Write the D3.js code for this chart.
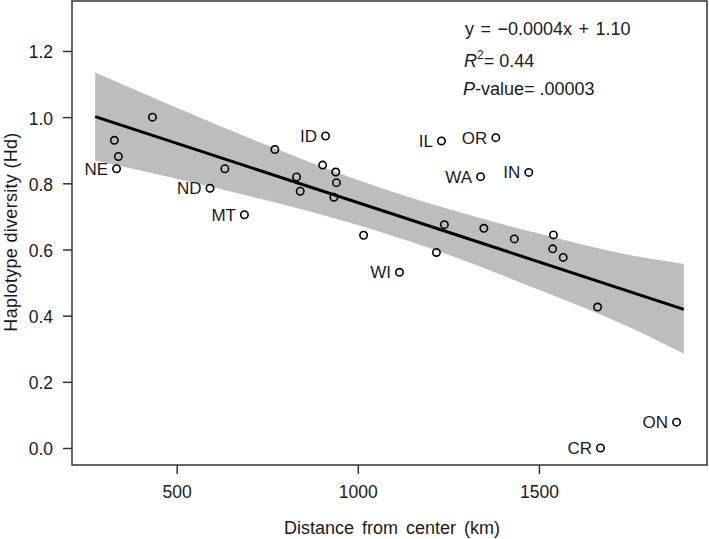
<!DOCTYPE html>
<html>
<head>
<meta charset="utf-8">
<script src="https://cdn.jsdelivr.net/npm/d3@7"></script>
<style>
  html, body { margin: 0; padding: 0; background: #fff; }
  svg { display: block; }
  text { font-family: "Liberation Sans", Arial, Helvetica, sans-serif; fill: #1a1a1a; }
</style>
</head>
<body>
<svg id="chart" width="709" height="539"></svg>
<script>
// ---- data ----
const distance = [328, 339, 334, 433, 592, 633, 687, 771, 831, 841, 903, 911, 939, 941, 934,
                  1016, 1115, 1217, 1231, 1239, 1339, 1348, 1381, 1432, 1472, 1540, 1538, 1567,
                  1662, 1670, 1880];
const diversity = [0.930, 0.881, 0.844, 1.000, 0.785, 0.844, 0.705, 0.902, 0.819, 0.776, 0.855, 0.943, 0.834, 0.802, 0.758,
                   0.643, 0.531, 0.591, 0.928, 0.675, 0.820, 0.664, 0.938, 0.632, 0.833, 0.644, 0.602, 0.576,
                   0.426, 0.000, 0.078];
const stateLabels = ["", "", "NE", "", "ND", "", "MT", "", "", "", "", "ID", "", "", "",
                     "", "WI", "", "IL", "", "WA", "", "OR", "", "IN", "", "", "",
                     "", "CR", "ON"];

const fitX = [275, 1900];
const fitY = [1.0016, 0.419];

const bandX     = [275,   500,   750,   1000,  1250,  1500,  1750,  1900];
const bandUpper = [1.135, 1.028, 0.915, 0.810, 0.722, 0.648, 0.583, 0.556];
const bandLower = [0.869, 0.814, 0.748, 0.674, 0.584, 0.478, 0.365, 0.285];

const xTicks = [500, 1000, 1500];
const yTicks = [0.0, 0.2, 0.4, 0.6, 0.8, 1.0, 1.2];

const xTitle = "Distance from center (km)";
const yTitle = "Haplotype diversity (Hd)";
const eqText = "y = \u22120.0004x + 1.10";
const r2Value = "= 0.44";
const pValue = "-value= .00003";

// ---- layout ----
const svg = d3.select("#chart");
const mLeft = 72, mRight = 707, mTop = 1, mBottom = 465;

const x = d3.scaleLinear().domain([211, 1964]).range([mLeft, mRight]);
const y = d3.scaleLinear().domain([-0.0514, 1.351]).range([mBottom, mTop]);

// confidence band
const bandData = bandX.map((d, i) => ({x: d, lo: bandLower[i], hi: bandUpper[i]}));
svg.append("path")
  .datum(bandData)
  .attr("fill", "#bdbdbd")
  .attr("d", d3.area().x(d => x(d.x)).y0(d => y(d.lo)).y1(d => y(d.hi)).curve(d3.curveMonotoneX));

// regression line
svg.append("path")
  .datum(fitX.map((d, i) => [d, fitY[i]]))
  .attr("fill", "none")
  .attr("stroke", "#000")
  .attr("stroke-width", 3)
  .attr("d", d3.line().x(d => x(d[0])).y(d => y(d[1])));

// points
const pts = distance.map((d, i) => ({x: d, y: diversity[i], label: stateLabels[i]}));
svg.append("g").selectAll("circle").data(pts).join("circle")
  .attr("cx", d => x(d.x)).attr("cy", d => y(d.y)).attr("r", 3.7)
  .attr("fill", "none").attr("stroke", "#000").attr("stroke-width", 1.6);

svg.append("g").selectAll("text").data(pts.filter(d => d.label)).join("text")
  .attr("x", d => x(d.x) - 8.5).attr("y", d => y(d.y) + 6)
  .attr("text-anchor", "end").attr("font-size", 17)
  .text(d => d.label);

// frame
svg.append("rect")
  .attr("x", mLeft).attr("y", mTop).attr("width", mRight - mLeft).attr("height", mBottom - mTop)
  .attr("fill", "none").attr("stroke", "#333").attr("stroke-width", 1.5);

// axes
const yAxis = svg.append("g").attr("transform", `translate(${mLeft},0)`)
  .call(d3.axisLeft(y).tickValues(yTicks).tickFormat(d3.format(".1f")).tickSize(9).tickPadding(10).tickSizeOuter(0));
yAxis.select(".domain").remove();
yAxis.selectAll("line").attr("stroke", "#333").attr("stroke-width", 1.5);
yAxis.selectAll("text").attr("font-size", 17.5).attr("fill", "#1a1a1a")
  .attr("font-family", "Liberation Sans, Arial, sans-serif").attr("dy", "0.4em");

const xAxis = svg.append("g").attr("transform", `translate(0,${mBottom})`)
  .call(d3.axisBottom(x).tickValues(xTicks).tickFormat(d3.format("d")).tickSize(9).tickPadding(12).tickSizeOuter(0));
xAxis.select(".domain").remove();
xAxis.selectAll("line").attr("stroke", "#333").attr("stroke-width", 1.5);
xAxis.selectAll("text").attr("font-size", 17.5).attr("fill", "#1a1a1a")
  .attr("font-family", "Liberation Sans, Arial, sans-serif");

// titles
svg.append("text").attr("x", 392).attr("y", 534).attr("text-anchor", "middle")
  .attr("font-size", 18).attr("word-spacing", 3).text(xTitle);
svg.append("text").attr("transform", "translate(17,232) rotate(-90)").attr("text-anchor", "middle")
  .attr("font-size", 18).attr("letter-spacing", 0.3).text(yTitle);

// annotation
svg.append("text").attr("x", 465).attr("y", 34.5).attr("font-size", 18).attr("word-spacing", 1.5).text(eqText);
const r2 = svg.append("text").attr("x", 464).attr("y", 66.5).attr("font-size", 18);
r2.append("tspan").attr("font-style", "italic").text("R");
r2.append("tspan").attr("font-size", 12).attr("dy", -8).text("2");
r2.append("tspan").attr("dy", 8).text(r2Value);
const pv = svg.append("text").attr("x", 463).attr("y", 95).attr("font-size", 18);
pv.append("tspan").attr("font-style", "italic").text("P");
pv.append("tspan").text(pValue);
</script>
</body>
</html>
